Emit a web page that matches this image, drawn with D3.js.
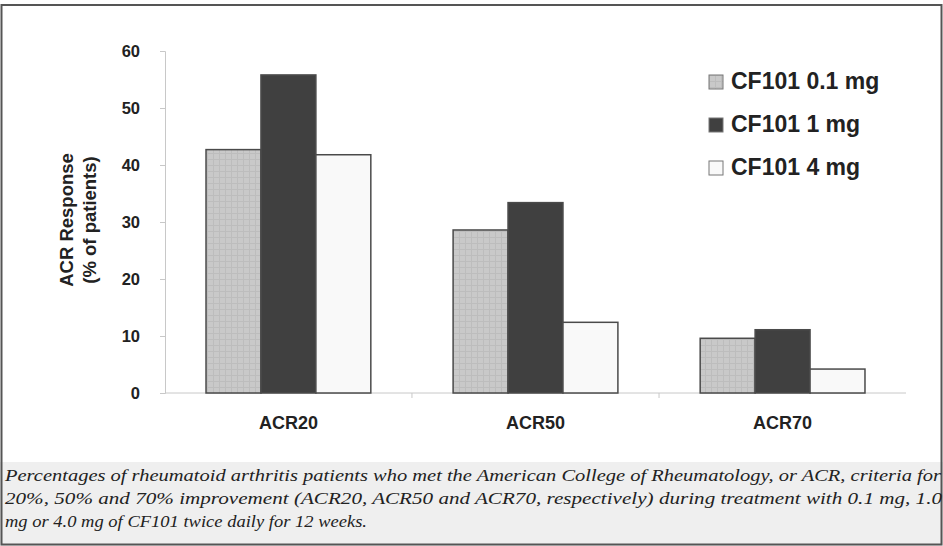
<!DOCTYPE html>
<html>
<head>
<meta charset="utf-8">
<script src="https://cdn.jsdelivr.net/npm/d3@7"></script>
<style>
  body { margin: 0; background: #fff; }
  svg { display: block; }
</style>
</head>
<body>
<div id="chart"></div>
<script>
// data
var categories = ["ACR20", "ACR50", "ACR70"];
var seriesNames = ["CF101 0.1 mg", "CF101 1 mg", "CF101 4 mg"];
var dose01 = [42.7, 28.6, 9.6];
var dose1 = [55.8, 33.4, 11.1];
var dose4 = [41.8, 12.4, 4.2];
var yTicks = [0, 10, 20, 30, 40, 50, 60];
var captionLines = [
  "Percentages of rheumatoid arthritis patients who met the American College of Rheumatology, or ACR, criteria for",
  "20%, 50% and 70% improvement (ACR20, ACR50 and ACR70, respectively) during treatment with 0.1 mg, 1.0",
  "mg or 4.0 mg of CF101 twice daily for 12 weeks."
];
var captionWidths = [936, 937, 362];

var svgWidth = 943;
var svgHeight = 546;
var fills = ["#c9c9c9", "#404040", "#f9f9f9"];
var sans = "Arial, 'Liberation Sans', sans-serif";

var svg = d3.select("#chart")
  .append("svg")
  .attr("width", svgWidth)
  .attr("height", svgHeight);

// light grid pattern for the 0.1 mg bars
var defs = svg.append("defs");
var pat = defs.append("pattern")
  .attr("id", "grid")
  .attr("width", 6).attr("height", 6)
  .attr("patternUnits", "userSpaceOnUse");
pat.append("rect").attr("width", 6).attr("height", 6).attr("fill", fills[0]);
pat.append("path").attr("d", "M0 0.5H6M0.5 0V6")
  .attr("stroke", "#bdbdbd").attr("stroke-width", 1);

// caption band
svg.append("rect")
  .attr("x", 0).attr("y", 462)
  .attr("width", svgWidth).attr("height", svgHeight - 462)
  .attr("fill", "#efefef");

// outer frame
svg.append("rect")
  .attr("x", 1.5).attr("y", 5)
  .attr("width", svgWidth - 3).attr("height", svgHeight - 6.5)
  .attr("fill", "none")
  .attr("stroke", "#555")
  .attr("stroke-width", 2);

var chartMargin = { top: 51, left: 165 };
var chartWidth = 741;
var chartHeight = 342;

var chartGroup = svg.append("g")
  .attr("transform", `translate(${chartMargin.left}, ${chartMargin.top})`);

var x0 = d3.scaleBand()
  .domain(categories)
  .range([0, chartWidth])
  .paddingInner(0.333)
  .paddingOuter(0.166);

var x1 = d3.scaleBand()
  .domain(seriesNames)
  .range([0, x0.bandwidth()]);

var y = d3.scaleLinear()
  .domain([0, 60])
  .range([chartHeight, 0]);

// y axis
var leftAxis = d3.axisLeft(y).tickValues(yTicks).tickSize(5).tickPadding(20);
var yG = chartGroup.append("g").call(leftAxis);
yG.select(".domain").attr("stroke", "#c8c8c8");
yG.selectAll(".tick line").attr("stroke", "#c8c8c8");
yG.selectAll(".tick text")
  .attr("font-family", sans)
  .attr("font-weight", "bold")
  .attr("font-size", 16.5)
  .attr("fill", "#222");

// x axis (ticks between groups)
var xAxisG = chartGroup.append("g")
  .attr("transform", `translate(0, ${chartHeight})`);
xAxisG.append("line")
  .attr("x1", 0).attr("x2", chartWidth)
  .attr("stroke", "#c8c8c8");
var step = x0.step();
xAxisG.selectAll(".sep")
  .data(categories.slice(1))
  .enter().append("line")
  .attr("x1", d => x0(d) - x0.paddingInner() * step / 2)
  .attr("x2", d => x0(d) - x0.paddingInner() * step / 2)
  .attr("y1", 0).attr("y2", 5)
  .attr("stroke", "#c8c8c8");
xAxisG.selectAll(".lbl")
  .data(categories)
  .enter().append("text")
  .attr("x", d => x0(d) + x0.bandwidth() / 2)
  .attr("y", 36)
  .attr("text-anchor", "middle")
  .attr("font-family", sans)
  .attr("font-weight", "bold")
  .attr("font-size", 18)
  .attr("fill", "#222")
  .text(d => d);

// bars
var seriesValues = [dose01, dose1, dose4];
var rows = [];
categories.forEach(function(c, i) {
  seriesNames.forEach(function(s, j) {
    rows.push({ cat: c, series: s, idx: j, value: seriesValues[j][i] });
  });
});

chartGroup.selectAll(".bar")
  .data(rows)
  .enter().append("rect")
  .attr("x", d => x0(d.cat) + x1(d.series))
  .attr("y", d => y(d.value))
  .attr("width", x1.bandwidth())
  .attr("height", d => chartHeight - y(d.value))
  .attr("fill", d => d.idx === 0 ? "url(#grid)" : fills[d.idx])
  .attr("stroke", "#4a4a4a")
  .attr("stroke-width", 1.5);

// y axis title
var yTitle = svg.append("text")
  .attr("transform", "translate(78, 220) rotate(-90)")
  .attr("text-anchor", "middle")
  .attr("font-family", sans)
  .attr("font-weight", "bold")
  .attr("font-size", 18.5)
  .attr("fill", "#222");
yTitle.append("tspan").attr("x", 0).attr("dy", -5).text("ACR Response");
yTitle.append("tspan").attr("x", 0).attr("dy", 23).text("(% of patients)");

// legend
var legend = svg.append("g").attr("transform", "translate(709, 75)");
var leg = legend.selectAll(".leg")
  .data(seriesNames)
  .enter().append("g")
  .attr("transform", (d, i) => `translate(0, ${i * 43})`);
leg.append("rect")
  .attr("width", 14).attr("height", 14)
  .attr("fill", (d, i) => i === 0 ? "url(#grid)" : fills[i])
  .attr("stroke", "#777")
  .attr("stroke-width", 1);
leg.append("text")
  .attr("x", 22).attr("y", 14)
  .attr("font-family", sans)
  .attr("font-weight", "bold")
  .attr("font-size", 23)
  .attr("fill", "#222")
  .text(d => d);

// caption
svg.append("g").selectAll("text")
  .data(captionLines)
  .enter().append("text")
  .attr("x", 5)
  .attr("y", (d, i) => 481 + i * 23)
  .attr("font-family", "'Liberation Serif', 'Times New Roman', serif")
  .attr("font-style", "italic")
  .attr("font-size", 17.5)
  .attr("fill", "#222")
  .attr("textLength", (d, i) => captionWidths[i])
  .attr("lengthAdjust", "spacingAndGlyphs")
  .text(d => d);
</script>
</body>
</html>
